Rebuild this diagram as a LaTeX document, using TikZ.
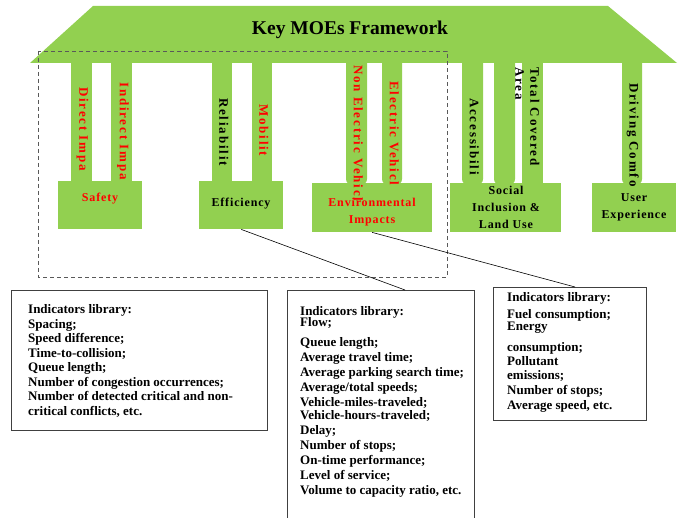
\documentclass[tikz,border=0pt]{standalone}
\usepackage{fontspec}
\setmainfont{Liberation Serif}
\usetikzlibrary{calc}
\definecolor{mgreen}{HTML}{92D050}
\definecolor{mred}{HTML}{FF0000}
\begin{document}
\begin{tikzpicture}[x=1pt,y=-1pt,
  pil/.style={fill=mgreen},
  pilr/.style={fill=mgreen, rounded corners=6pt},
  ptext/.style={rotate=-90, anchor=north west, inner sep=0pt, align=left,
    font=\fontsize{13}{15}\selectfont\bfseries\addfontfeature{LetterSpace=14}},
  gbox/.style={fill=mgreen, draw=none, anchor=north west, inner sep=0pt},
  btext/.style={align=center, inner sep=0pt,
    font=\fontsize{12}{17}\selectfont\bfseries\addfontfeature{LetterSpace=7}},
  lib/.style={draw=black!75, line width=0.8pt, anchor=north west, inner sep=0pt},
  libt/.style={anchor=base west, inner sep=0pt, font=\fontsize{13}{15}\selectfont\bfseries},
  conn/.style={draw=black, line width=0.6pt},
  dashbox/.style={draw=black!65, line width=0.9pt, dash pattern=on 4pt off 3pt}
]
\useasboundingbox (0,0) rectangle (678,518);

% pillars
\fill[pil]  (71,50) rectangle (92,184);
\fill[pil]  (111,50) rectangle (132,184);
\fill[pil]  (212,50) rectangle (232,184);
\fill[pil]  (252,50) rectangle (272,184);
\fill[pilr] (346,50) rectangle (367,185);
\fill[pilr] (382,50) rectangle (402,185);
\fill[pilr] (462,50) rectangle (483,185);
\fill[pilr] (494,50) rectangle (515,185);
\fill[pil]  (522,50) rectangle (543,185);
\fill[pilr] (622,50) rectangle (642,185);

% roof
\fill[mgreen] (93,6) -- (608,6) -- (677,63) -- (30,63) -- cycle;
\node[inner sep=0pt, font=\fontsize{19.5}{21}\selectfont\bfseries] (title) at (350,30) {Key MOEs Framework};

% green boxes
\node[gbox, minimum width=84pt, minimum height=48pt] (safety) at (58,181) {};
\node[gbox, minimum width=84pt, minimum height=48pt] (eff) at (199,181) {};
\node[gbox, minimum width=120pt, minimum height=49pt] (env) at (312,183) {};
\node[gbox, minimum width=111pt, minimum height=49pt] (soc) at (450,183) {};
\node[gbox, minimum width=84pt, minimum height=49pt] (ux) at (592,183) {};

% dashed frame
\draw[dashbox] (38,51) rectangle (447,277);

% pillar texts
\node[ptext, text=mred] (p1) at (88.5,87) {Direct Impa};
\node[ptext, text=mred] (p2) at (129,82) {Indirect Impa};
\node[ptext] (p3) at (228.5,98) {Reliabilit};
\node[ptext, text=mred] (p4) at (268.5,104) {Mobilit};
\node[ptext, text=mred] (p5) at (363,65) {Non Electric Vehicl};
\node[ptext, text=mred] (p6) at (399,81) {Electric Vehicl};
\node[ptext] (p7) at (479,98) {Accessibili};
\node[ptext] (p8) at (539.5,67) {Total Covered\\Area};
\node[ptext] (p9) at (639,83) {Driving Comfo};

% box texts
\node[btext, text=mred] (tsafety) at (100,199) {Safety};
\node[btext] (teff) at (241,204) {Efficiency};
\node[btext, text=mred] (tenv) at (372,212.5) {Environmental\\Impacts};
\node[btext] (tsoc) at (506,207) {Social\\Inclusion \&\\Land Use};
\node[btext] (tux) at (634,207.5) {User\\Experience};

% library boxes
\node[lib, minimum width=256pt, minimum height=140pt] (lib1) at (11,290) {};
\node[lib, minimum width=187pt, minimum height=250pt] (lib2) at (287,290) {};
\node[lib, minimum width=153pt, minimum height=133pt] (lib3) at (493,287) {};

\foreach \yy/\txt [count=\i] in {314/{Indicators library:}, 328.5/{Spacing;},
  343/{Speed difference;}, 357.5/{Time-to-collision;}, 372/{Queue length;},
  386.5/{Number of congestion occurrences;}, 401/{Number of detected critical and non-},
  415.5/{critical conflicts, etc.}}
  {\node[libt] (la\i) at (28,\yy) {\txt};}

\foreach \yy/\txt [count=\i] in {315.5/{Indicators library:}, 327/{Flow;},
  347/{Queue length;}, 362/{Average travel time;}, 377/{Average parking search time;},
  392/{Average/total speeds;}, 407/{Vehicle-miles-traveled;}, 420/{Vehicle-hours-traveled;},
  435/{Delay;}, 450/{Number of stops;}, 465/{On-time performance;},
  480/{Level of service;}, 495/{Volume to capacity ratio, etc.}}
  {\node[libt] (lb\i) at (300,\yy) {\txt};}

\foreach \yy/\txt [count=\i] in {301.5/{Indicators library:}, 318.5/{Fuel consumption;},
  330.5/{Energy}, 351.5/{consumption;}, 365.5/{Pollutant}, 379.5/{emissions;},
  394.5/{Number of stops;}, 409.5/{Average speed, etc.}}
  {\node[libt] (lc\i) at (507,\yy) {\txt};}

% connectors
\coordinate (e2) at (405,290);
\coordinate (e3) at (575,287);
\draw[conn] (eff.south) -- (e2);
\draw[conn] (env.south) -- (e3);
\end{tikzpicture}
\end{document}
